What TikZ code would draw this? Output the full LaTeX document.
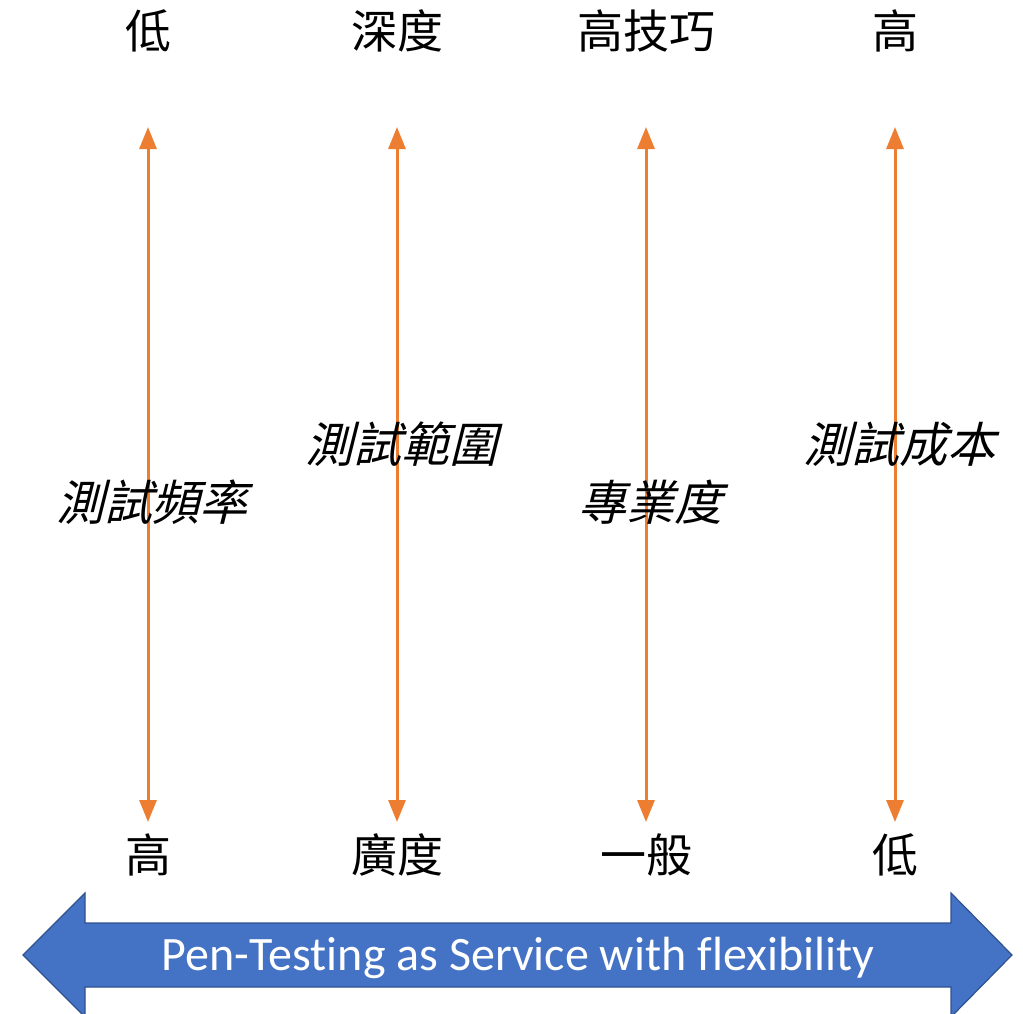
\documentclass[tikz,border=0pt]{standalone}
\usepackage{fontspec}
\setmainfont[Ligatures=NoCommon]{Carlito}
\newfontfamily\cjk{Noto Sans CJK TC}
\newfontfamily\cjkit[FakeSlant=0.25]{Noto Sans CJK TC}
\usetikzlibrary{arrows.meta}
\definecolor{axisorange}{HTML}{ED7D31}
\definecolor{bandblue}{HTML}{4472C4}
\definecolor{bandedge}{HTML}{2F528F}

\begin{document}
\begin{tikzpicture}[x=1pt,y=-1pt,
  pole/.style={font=\cjk\fontsize{46}{50}\selectfont, inner sep=0pt},
  topic/.style={font=\cjkit\fontsize{48}{52}\selectfont, inner sep=0pt},
  axis/.style={{Triangle[length=22pt,width=17pt]}-{Triangle[length=22pt,width=17pt]}, line width=3pt, axisorange}]
\useasboundingbox (0,0) rectangle (1023,1013);
\clip (0,0) rectangle (1023,1013);

% four scales, high end on top
\foreach \x/\hi/\lo/\what/\y [count=\i] in {148/低/高/測試頻率/502, 397/深度/廣度/測試範圍/444, 646/高技巧/一般/專業度/502, 895/高/低/測試成本/444}
    {
    \node (top\i) at (\x,31) [pole] {\hi};
    \node (bot\i) at (\x,855) [pole] {\lo};
    \coordinate (up\i) at (\x,127);
    \coordinate (down\i) at (\x,822);
    \draw[axis] (up\i) -- (down\i);
    \node (what\i) at (\x+4,\y) [topic] {\what};
    }

% band at the bottom
\draw[fill=bandblue, draw=bandedge, line width=1.2pt] (23,955) -- (85,893) -- (85,923) -- (951,923) -- (951,893) -- (1012,955) -- (951,1017) -- (951,987) -- (85,987) -- (85,1017) -- cycle;
\node (band) at (518,958) [text=white, font=\fontsize{48}{52}\selectfont, inner sep=0pt] {Pen-Testing as Service with flexibility};

\end{tikzpicture}
\end{document}
